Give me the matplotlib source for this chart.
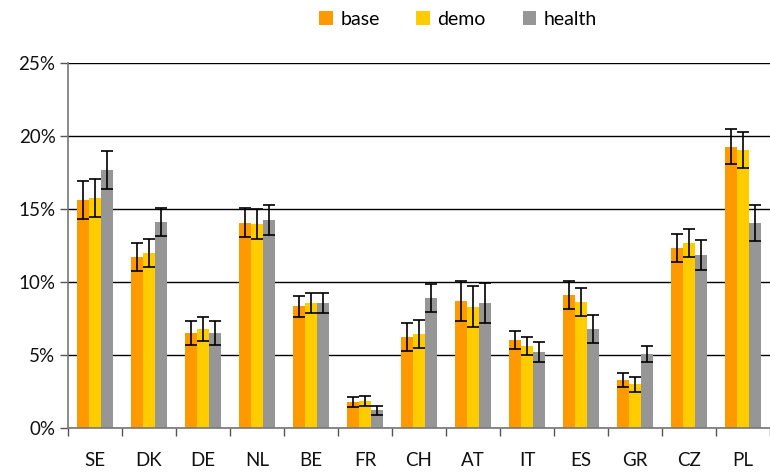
import matplotlib
matplotlib.use("Agg")
import matplotlib.pyplot as plt
import numpy as np
from matplotlib.ticker import FuncFormatter, FixedLocator

countries = ["SE", "DK", "DE", "NL", "BE", "FR", "CH", "AT", "IT", "ES", "GR", "CZ", "PL"]
base = [15.6, 11.7, 6.5, 14.05, 8.35, 1.78, 6.23, 8.7, 6.03, 9.1, 3.29, 12.33, 19.25]
demo = [15.75, 12.0, 6.78, 13.97, 8.56, 1.85, 6.44, 8.3, 5.62, 8.63, 3.01, 12.67, 19.04]
health = [17.7, 14.1, 6.5, 14.25, 8.56, 1.23, 8.9, 8.56, 5.2, 6.78, 5.07, 11.85, 14.04]
base_err = [1.3, 0.95, 0.8, 1.0, 0.72, 0.32, 0.95, 1.37, 0.64, 0.95, 0.51, 0.98, 1.2]
demo_err = [1.3, 0.95, 0.8, 1.0, 0.7, 0.32, 0.95, 1.4, 0.64, 0.95, 0.51, 0.98, 1.22]
health_err = [1.3, 0.95, 0.8, 1.0, 0.7, 0.31, 0.93, 1.4, 0.67, 0.95, 0.52, 1.0, 1.2]
series_names = ["base", "demo", "health"]
colors = ["#FF9900", "#FFCC00", "#969696"]

plt.rcParams['font.family'] = ['Lato', 'DejaVu Sans']
FS = 13.5

fig = plt.figure(figsize=(7.7, 4.75), dpi=100)
ax = fig.add_axes([68/770, 47/475, 702/770, 365/475])

x = np.arange(len(countries))
w = 0.222
for i, (vals, errs, name, c) in enumerate(zip([base, demo, health],
                                              [base_err, demo_err, health_err],
                                              series_names, colors)):
    ax.bar(x + (i - 1) * w, vals, width=w, color=c, label=name, zorder=2,
           yerr=errs, error_kw=dict(ecolor="black", elinewidth=1.2, capsize=4, capthick=1.2, zorder=3))

ax.set_xlim(-0.5, len(countries) - 0.5)
ax.set_ylim(0, 25)
ax.set_yticks([0, 5, 10, 15, 20, 25])
ax.yaxis.set_major_formatter(FuncFormatter(lambda v, p: f"{int(v)}%"))
ax.yaxis.grid(True, color="black", linewidth=1, zorder=0)
ax.set_axisbelow(True)

ax.set_xticks(x)
ax.set_xticklabels(countries)
ax.xaxis.set_minor_locator(FixedLocator(np.arange(-0.5, len(countries), 1.0)))
ax.tick_params(axis="x", which="major", length=0, pad=17, labelsize=FS, labelcolor="#111111")
ax.tick_params(axis="x", which="minor", length=6, width=1, color="#555555", direction="out")
ax.tick_params(axis="y", length=6, width=1, color="#555555", labelsize=FS, pad=3,
               direction="out", labelcolor="#111111")

for s in ["top", "right"]:
    ax.spines[s].set_visible(False)
for s in ["left", "bottom"]:
    ax.spines[s].set_color("#777777")
    ax.spines[s].set_linewidth(1.2)

fig.legend(loc="upper center", bbox_to_anchor=(458/770, 1 - 3/475), ncol=3, frameon=False,
           fontsize=14, handlelength=0.7, handleheight=0.75, handletextpad=0.37,
           columnspacing=1.9, borderaxespad=0)

fig.savefig("out.png", dpi=100)
